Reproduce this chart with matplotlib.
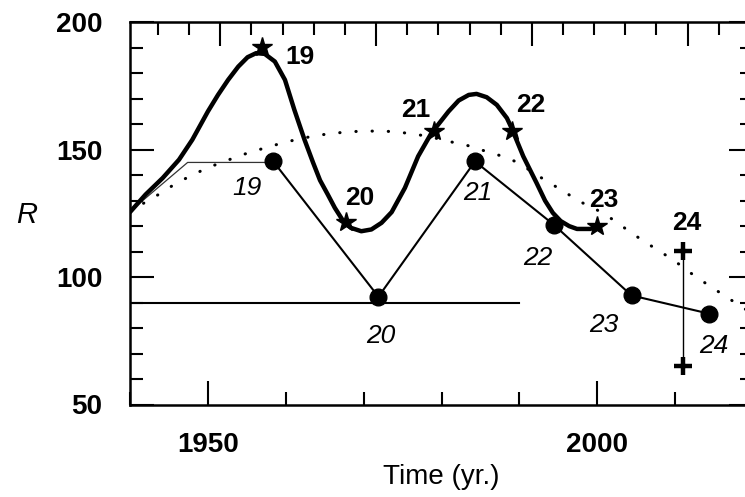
"""Solar cycle amplitudes: smoothed maxima, predicted values and trend."""

import matplotlib.pyplot as plt
import numpy as np

plt.rcParams["font.family"] = ["Liberation Sans", "DejaVu Sans"]

# thick smoothed curve through the observed maxima (stars)
curve_years = [1940, 1942, 1944.2, 1946.3, 1948, 1950, 1951.3, 1952.6, 1953.9,
               1955.1, 1956.2, 1957.3, 1958.6, 1959.9, 1961.1, 1962.4, 1963.5,
               1964.4, 1965.4, 1966.3, 1967.4, 1968.4, 1969.7, 1971.0, 1972.3,
               1973.6, 1975.3, 1977.0, 1978.7, 1980.0, 1980.9, 1982.2, 1983.5,
               1984.5, 1985.8, 1987.1, 1988.4, 1989.0, 1990.5, 1992.2, 1993.3,
               1994.3, 1995.3, 1996.4, 1997.4, 1999.1, 2000]
curve_vals = [125.5, 132.4, 138.9, 146.1, 153.9, 165, 171.5, 177.4, 182.6,
              186.3, 187.9, 187.6, 184.6, 177.4, 165.7, 154, 145,
              138, 132.4, 127.2, 121.9, 119.3, 118.0, 118.7, 121.3,
              125.5, 135, 147.4, 156.5, 161.5, 165.0, 169.3, 171.5,
              171.9, 170.6, 167.6, 162.4, 158.5, 147.4, 137, 130,
              125.2, 122, 120, 118.9, 118.9, 120]

star_cycles = ["19", "20", "21", "22", "23"]
star_years = [1956.9, 1967.8, 1979.0, 1989.0, 2000.0]
star_vals = [190.4, 121.5, 157.4, 157.2, 120.0]

# dotted long-term trend
trend_years = [1940, 1942, 1944, 1946, 1948, 1950, 1952, 1954, 1956, 1958,
               1960, 1962, 1964, 1966, 1968, 1970, 1972, 1974, 1976, 1978,
               1980, 1982, 1984, 1986, 1988, 1990, 1992, 1994, 1996, 1998,
               2000, 2002, 2004, 2006, 2008, 2010, 2012, 2014, 2016, 2018, 2020]
trend_vals = [125.5, 129.5, 133, 137, 140, 143, 145.2, 147.6, 149.5, 151.3,
              153, 154.4, 155.6, 156.4, 157, 157.3, 157.3, 157.1, 156.3, 155.4,
              154, 152.5, 151.2, 149, 147.3, 144.7, 140.5, 136.8, 133, 129.3,
              126.3, 122.6, 118.2, 114, 110.2, 106.2, 101.6, 97.4, 93.4, 89.4, 85.5]

# thin early segment leading to cycle 19
early_years = [1940, 1947.4, 1958.4]
early_vals = [125.8, 145.0, 145.0]

# cycle values (filled circles)
dot_cycles = ["19", "20", "21", "22", "23", "24"]
dot_years = [1958.4, 1971.9, 1984.3, 1994.4, 2004.4, 2014.3]
dot_vals = [145.4, 92.3, 145.4, 120.6, 92.8, 85.7]

# horizontal reference level
level_years = [1940, 1990]
level_vals = [90, 90]

# cycle 24 range
range_year = 2011.0
range_vals = [110.2, 65.2]

fig = plt.figure(figsize=(7.45, 4.97), dpi=100)
ax = fig.add_axes([130 / 745, 92.5 / 497, 623 / 745, 382.2 / 497])

ax.plot(level_years, level_vals, color="black", lw=1.5)
ax.plot(trend_years, trend_vals, color="black", lw=2.2,
        linestyle=(0, (0.1, 5.2)), dash_capstyle="round")
ax.plot(early_years, early_vals, color="#333333", lw=0.9)
ax.plot(dot_years, dot_vals, color="black", lw=1.5,
        marker="o", markersize=12)
ax.plot(curve_years, curve_vals, color="black", lw=3.2,
        solid_capstyle="round", solid_joinstyle="round")
ax.plot(star_years, star_vals, linestyle="none", marker="*",
        markersize=15, color="black")
ax.plot([range_year, range_year], range_vals, color="black", lw=1.0,
        marker="+", markersize=13, markeredgewidth=3.2)

# bold cycle numbers next to stars
star_text = [(1961.8, 186.5), (1969.5, 131.1), (1976.7, 165.7),
             (1991.4, 167.6), (2000.9, 130.4)]
for lab, (tx, ty) in zip(star_cycles, star_text):
    ax.text(tx, ty, lab, fontsize=19, fontweight="bold",
            ha="center", va="center")
ax.text(2011.5, 121.3, "24", fontsize=19, fontweight="bold",
        ha="center", va="center")

# italic cycle numbers next to dots
dot_text = [(1955.0, 135.0), (1972.2, 76.8), (1984.6, 133.0),
            (1992.4, 107.6), (2000.9, 81.1), (2015.0, 73.0)]
for lab, (tx, ty) in zip(dot_cycles, dot_text):
    ax.text(tx, ty, lab, fontsize=19, fontstyle="italic",
            ha="center", va="center")

ax.set_xlim(1940, 2020)
ax.set_ylim(50, 200)

ax.set_xticks([1950, 2000])
ax.set_xticks(np.arange(1940, 2021, 10), minor=True)
ax.set_yticks([50, 100, 150, 200])
ax.set_yticks(np.arange(50, 201, 10), minor=True)
ax.tick_params(which="both", direction="in", width=1.5,
               top=False, right=True, labelsize=20, pad=20)
ax.tick_params(which="major", length=17)
ax.tick_params(which="minor", length=9.5)
for lab in ax.get_xticklabels() + ax.get_yticklabels():
    lab.set_fontweight("bold")

for sp in ax.spines.values():
    sp.set_linewidth(1.8)

top = ax.secondary_xaxis("top")
top.set_xticks(np.arange(1951.6, 2020, 20))
top.set_xticks(np.arange(1943.6, 2020, 4), minor=True)
top.tick_params(which="both", direction="in", width=1.5, labeltop=False)
top.tick_params(which="major", length=17)
top.tick_params(which="minor", length=9.5)

ax.set_xlabel("Time (yr.)", fontsize=20, labelpad=4)
fig.text(27 / 745, 1 - 215 / 497, "R", fontsize=21, fontstyle="italic",
         ha="center", va="center")

fig.savefig("out.png", dpi=100)
